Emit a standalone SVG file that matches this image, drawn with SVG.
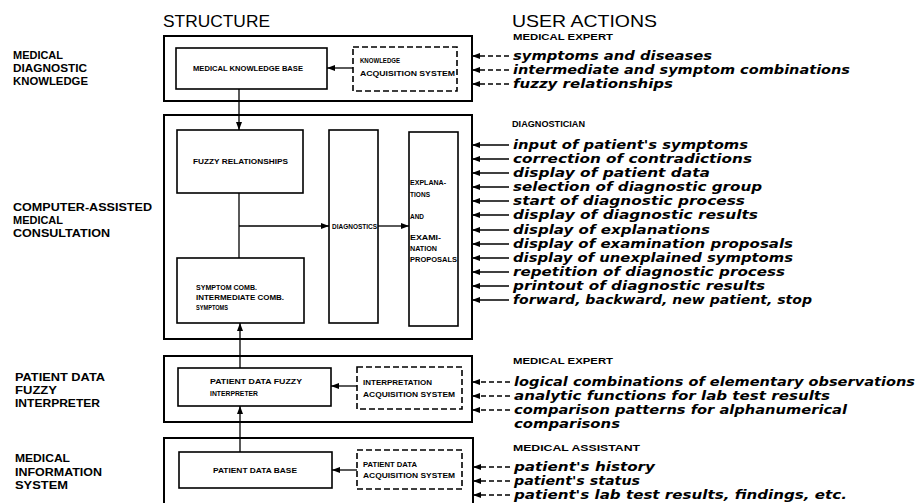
<svg xmlns="http://www.w3.org/2000/svg" width="920" height="503" viewBox="0 0 920 503">
  <defs>
    <marker id="arr" viewBox="0 0 8 6" refX="8" refY="3" markerWidth="8" markerHeight="6" markerUnits="userSpaceOnUse" orient="auto">
      <path d="M0,0 L8,3 L0,6 Z" fill="#000"/>
    </marker>
    <style>
      .outer { fill: none; stroke: #000; stroke-width: 2; }
      .inner { fill: none; stroke: #000; stroke-width: 1.6; }
      .dash { fill: none; stroke: #000; stroke-width: 1.6; stroke-dasharray: 6 3; }
      .wire { fill: none; stroke: #000; stroke-width: 1.3; }
      .wired { fill: none; stroke: #000; stroke-width: 1.4; stroke-dasharray: 5 3; }
      .title { font-family: "Liberation Sans", Arial, sans-serif; font-size: 17px; fill: #000; }
      .side { font-family: "Liberation Sans", Arial, sans-serif; font-size: 10.5px; font-weight: bold; fill: #000; }
      .role { font-family: "Liberation Sans", Arial, sans-serif; font-size: 9px; font-weight: bold; fill: #000; }
      .box { font-family: "Liberation Sans", Arial, sans-serif; font-size: 7.5px; font-weight: bold; fill: #000; }
      .act { font-family: "DejaVu Sans", "Liberation Sans", sans-serif; font-size: 12.5px; font-style: oblique; font-weight: bold; fill: #000; }
    </style>
  </defs>
  <rect width="920" height="503" fill="#fff"/>

  <!-- column headings -->
  <text class="title" x="163" y="27" textLength="107" lengthAdjust="spacingAndGlyphs">STRUCTURE</text>
  <text class="title" x="512" y="27" textLength="145" lengthAdjust="spacingAndGlyphs">USER ACTIONS</text>

  <!-- layer names on the left -->
  <g id="layer-labels">
    <text class="side" x="13" y="59" textLength="50" lengthAdjust="spacingAndGlyphs">MEDICAL</text>
    <text class="side" x="13" y="72" textLength="74" lengthAdjust="spacingAndGlyphs">DIAGNOSTIC</text>
    <text class="side" x="13" y="85" textLength="75" lengthAdjust="spacingAndGlyphs">KNOWLEDGE</text>

    <text class="side" x="13" y="211" textLength="139" lengthAdjust="spacingAndGlyphs">COMPUTER-ASSISTED</text>
    <text class="side" x="13" y="224" textLength="50" lengthAdjust="spacingAndGlyphs">MEDICAL</text>
    <text class="side" x="13" y="237" textLength="97" lengthAdjust="spacingAndGlyphs">CONSULTATION</text>

    <text class="side" x="15" y="381" textLength="90" lengthAdjust="spacingAndGlyphs">PATIENT DATA</text>
    <text class="side" x="15" y="394" textLength="42" lengthAdjust="spacingAndGlyphs">FUZZY</text>
    <text class="side" x="15" y="407" textLength="85" lengthAdjust="spacingAndGlyphs">INTERPRETER</text>

    <text class="side" x="15" y="462" textLength="55" lengthAdjust="spacingAndGlyphs">MEDICAL</text>
    <text class="side" x="15" y="476" textLength="87" lengthAdjust="spacingAndGlyphs">INFORMATION</text>
    <text class="side" x="15" y="489" textLength="53" lengthAdjust="spacingAndGlyphs">SYSTEM</text>
  </g>

  <!-- layer 1: medical diagnostic knowledge -->
  <g id="knowledge-layer">
    <rect class="outer" x="164" y="36" width="308" height="65"/>
  </g>
  <g id="knowledge-base">
    <rect class="inner" x="176" y="48" width="151" height="41"/>
    <text class="box" x="193" y="71" textLength="110" lengthAdjust="spacingAndGlyphs">MEDICAL KNOWLEDGE BASE</text>
  </g>
  <g id="knowledge-acquisition">
    <rect class="dash" x="353" y="47" width="104" height="44"/>
    <text class="box" x="360" y="63" textLength="40" lengthAdjust="spacingAndGlyphs">KNOWLEDGE</text>
    <text class="box" x="360" y="76" textLength="95" lengthAdjust="spacingAndGlyphs">ACQUISITION SYSTEM</text>
  </g>

  <!-- layer 2: computer-assisted medical consultation -->
  <g id="consultation-layer">
    <rect class="outer" x="164" y="115" width="308" height="224"/>
  </g>
  <g id="fuzzy-relationships">
    <rect class="inner" x="177" y="130" width="126" height="63"/>
    <text class="box" x="193" y="164" textLength="95" lengthAdjust="spacingAndGlyphs">FUZZY RELATIONSHIPS</text>
  </g>
  <g id="symptom-combinations">
    <rect class="inner" x="177" y="258" width="127" height="65"/>
    <text class="box" x="196" y="290" textLength="61" lengthAdjust="spacingAndGlyphs">SYMPTOM COMB.</text>
    <text class="box" x="196" y="300" textLength="88" lengthAdjust="spacingAndGlyphs">INTERMEDIATE COMB.</text>
    <text class="box" x="196" y="310" textLength="32" lengthAdjust="spacingAndGlyphs">SYMPTOMS</text>
  </g>
  <g id="diagnostics">
    <rect class="inner" x="329" y="130" width="49" height="193"/>
    <text class="box" x="332" y="228.5" textLength="45" lengthAdjust="spacingAndGlyphs">DIAGNOSTICS</text>
  </g>
  <g id="explanations">
    <rect class="inner" x="409" y="132" width="49" height="194"/>
    <text class="box" x="410" y="185" textLength="36" lengthAdjust="spacingAndGlyphs">EXPLANA-</text>
    <text class="box" x="410" y="197" textLength="20" lengthAdjust="spacingAndGlyphs">TIONS</text>
    <text class="box" x="410" y="219" textLength="14" lengthAdjust="spacingAndGlyphs">AND</text>
    <text class="box" x="410" y="240" textLength="31" lengthAdjust="spacingAndGlyphs">EXAMI-</text>
    <text class="box" x="410" y="251" textLength="27" lengthAdjust="spacingAndGlyphs">NATION</text>
    <text class="box" x="410" y="262" textLength="47" lengthAdjust="spacingAndGlyphs">PROPOSALS</text>
  </g>

  <!-- layer 3: patient data fuzzy interpreter -->
  <g id="interpreter-layer">
    <rect class="outer" x="164" y="356" width="308" height="66"/>
  </g>
  <g id="fuzzy-interpreter">
    <rect class="inner" x="178" y="368" width="153" height="38"/>
    <text class="box" x="210" y="384" textLength="92" lengthAdjust="spacingAndGlyphs">PATIENT DATA FUZZY</text>
    <text class="box" x="210" y="396" textLength="48" lengthAdjust="spacingAndGlyphs">INTERPRETER</text>
  </g>
  <g id="interpretation-acquisition">
    <rect class="dash" x="357" y="367" width="105" height="42"/>
    <text class="box" x="363" y="385" textLength="69" lengthAdjust="spacingAndGlyphs">INTERPRETATION</text>
    <text class="box" x="363" y="397" textLength="92" lengthAdjust="spacingAndGlyphs">ACQUISITION SYSTEM</text>
  </g>

  <!-- layer 4: medical information system -->
  <g id="information-layer">
    <rect class="outer" x="164" y="438" width="309" height="70"/>
  </g>
  <g id="patient-data-base">
    <rect class="inner" x="179" y="452" width="153" height="36"/>
    <text class="box" x="213" y="472.5" textLength="84" lengthAdjust="spacingAndGlyphs">PATIENT DATA BASE</text>
  </g>
  <g id="patient-data-acquisition">
    <rect class="dash" x="357" y="450" width="105" height="39"/>
    <text class="box" x="363" y="467" textLength="54" lengthAdjust="spacingAndGlyphs">PATIENT DATA</text>
    <text class="box" x="363" y="478" textLength="92" lengthAdjust="spacingAndGlyphs">ACQUISITION SYSTEM</text>
  </g>

  <!-- connectors between the structure blocks -->
  <g id="connectors">
    <line class="wire" x1="353" y1="68" x2="327" y2="68" marker-end="url(#arr)"/>
    <line class="wire" x1="239" y1="89" x2="239" y2="130" marker-end="url(#arr)"/>
    <line class="wire" x1="239" y1="193" x2="239" y2="258"/>
    <line class="wire" x1="239" y1="226" x2="329" y2="226" marker-end="url(#arr)"/>
    <line class="wire" x1="378" y1="226" x2="409" y2="226" marker-end="url(#arr)"/>
    <line class="wire" x1="240" y1="368" x2="240" y2="323" marker-end="url(#arr)"/>
    <line class="wire" x1="357" y1="386" x2="331" y2="386" marker-end="url(#arr)"/>
    <line class="wire" x1="240" y1="452" x2="240" y2="406" marker-end="url(#arr)"/>
    <line class="wire" x1="357" y1="470" x2="332" y2="470" marker-end="url(#arr)"/>

    <!-- user action inputs -->
    <line class="wired" x1="509" y1="56" x2="472" y2="56" marker-end="url(#arr)"/>
    <line class="wired" x1="509" y1="70" x2="472" y2="70" marker-end="url(#arr)"/>
    <line class="wired" x1="509" y1="84" x2="472" y2="84" marker-end="url(#arr)"/>

    <line class="wire" x1="509" y1="145" x2="472" y2="145" marker-end="url(#arr)"/>
    <line class="wire" x1="509" y1="159" x2="472" y2="159" marker-end="url(#arr)"/>
    <line class="wire" x1="509" y1="173" x2="472" y2="173" marker-end="url(#arr)"/>
    <line class="wire" x1="509" y1="187" x2="472" y2="187" marker-end="url(#arr)"/>
    <line class="wire" x1="509" y1="201" x2="472" y2="201" marker-end="url(#arr)"/>
    <line class="wire" x1="509" y1="215" x2="472" y2="215" marker-end="url(#arr)"/>
    <line class="wire" x1="509" y1="230" x2="472" y2="230" marker-end="url(#arr)"/>
    <line class="wire" x1="509" y1="244" x2="472" y2="244" marker-end="url(#arr)"/>
    <line class="wire" x1="509" y1="258" x2="472" y2="258" marker-end="url(#arr)"/>
    <line class="wire" x1="509" y1="272" x2="472" y2="272" marker-end="url(#arr)"/>
    <line class="wire" x1="509" y1="286" x2="472" y2="286" marker-end="url(#arr)"/>
    <line class="wire" x1="509" y1="300" x2="472" y2="300" marker-end="url(#arr)"/>

    <line class="wired" x1="510" y1="382" x2="472" y2="382" marker-end="url(#arr)"/>
    <line class="wired" x1="510" y1="396" x2="472" y2="396" marker-end="url(#arr)"/>
    <line class="wired" x1="510" y1="410" x2="472" y2="410" marker-end="url(#arr)"/>

    <line class="wired" x1="510" y1="467" x2="473" y2="467" marker-end="url(#arr)"/>
    <line class="wired" x1="510" y1="481" x2="473" y2="481" marker-end="url(#arr)"/>
    <line class="wired" x1="510" y1="495" x2="473" y2="495" marker-end="url(#arr)"/>
  </g>

  <!-- user actions -->
  <g id="actions-expert-knowledge">
    <text class="role" x="513" y="40" textLength="100" lengthAdjust="spacingAndGlyphs">MEDICAL EXPERT</text>
    <text class="act" x="513" y="60" textLength="199" lengthAdjust="spacingAndGlyphs">symptoms and diseases</text>
    <text class="act" x="513" y="74" textLength="337" lengthAdjust="spacingAndGlyphs">intermediate and symptom combinations</text>
    <text class="act" x="513" y="88" textLength="160" lengthAdjust="spacingAndGlyphs">fuzzy relationships</text>
  </g>
  <g id="actions-diagnostician">
    <text class="role" x="512" y="127" textLength="73" lengthAdjust="spacingAndGlyphs">DIAGNOSTICIAN</text>
    <text class="act" x="513" y="149" textLength="235" lengthAdjust="spacingAndGlyphs">input of patient's symptoms</text>
    <text class="act" x="513" y="163" textLength="239" lengthAdjust="spacingAndGlyphs">correction of contradictions</text>
    <text class="act" x="513" y="177" textLength="197" lengthAdjust="spacingAndGlyphs">display of patient data</text>
    <text class="act" x="513" y="191" textLength="249" lengthAdjust="spacingAndGlyphs">selection of diagnostic group</text>
    <text class="act" x="513" y="205" textLength="232" lengthAdjust="spacingAndGlyphs">start of diagnostic process</text>
    <text class="act" x="513" y="219" textLength="245" lengthAdjust="spacingAndGlyphs">display of diagnostic results</text>
    <text class="act" x="513" y="234" textLength="197" lengthAdjust="spacingAndGlyphs">display of explanations</text>
    <text class="act" x="513" y="248" textLength="280" lengthAdjust="spacingAndGlyphs">display of examination proposals</text>
    <text class="act" x="513" y="262" textLength="280" lengthAdjust="spacingAndGlyphs">display of unexplained symptoms</text>
    <text class="act" x="513" y="276" textLength="272" lengthAdjust="spacingAndGlyphs">repetition of diagnostic process</text>
    <text class="act" x="513" y="290" textLength="252" lengthAdjust="spacingAndGlyphs">printout of diagnostic results</text>
    <text class="act" x="513" y="304" textLength="299" lengthAdjust="spacingAndGlyphs">forward, backward, new patient, stop</text>
  </g>
  <g id="actions-expert-interpreter">
    <text class="role" x="513" y="364" textLength="100" lengthAdjust="spacingAndGlyphs">MEDICAL EXPERT</text>
    <text class="act" x="514" y="386" textLength="401" lengthAdjust="spacingAndGlyphs">logical combinations of elementary observations</text>
    <text class="act" x="514" y="400" textLength="316" lengthAdjust="spacingAndGlyphs">analytic functions for lab test results</text>
    <text class="act" x="514" y="414" textLength="333" lengthAdjust="spacingAndGlyphs">comparison patterns for alphanumerical</text>
    <text class="act" x="514" y="428" textLength="106" lengthAdjust="spacingAndGlyphs">comparisons</text>
  </g>
  <g id="actions-assistant">
    <text class="role" x="513" y="451" textLength="127" lengthAdjust="spacingAndGlyphs">MEDICAL ASSISTANT</text>
    <text class="act" x="514" y="471" textLength="141" lengthAdjust="spacingAndGlyphs">patient's history</text>
    <text class="act" x="514" y="485" textLength="126" lengthAdjust="spacingAndGlyphs">patient's status</text>
    <text class="act" x="514" y="499" textLength="333" lengthAdjust="spacingAndGlyphs">patient's lab test results, findings, etc.</text>
  </g>
</svg>
